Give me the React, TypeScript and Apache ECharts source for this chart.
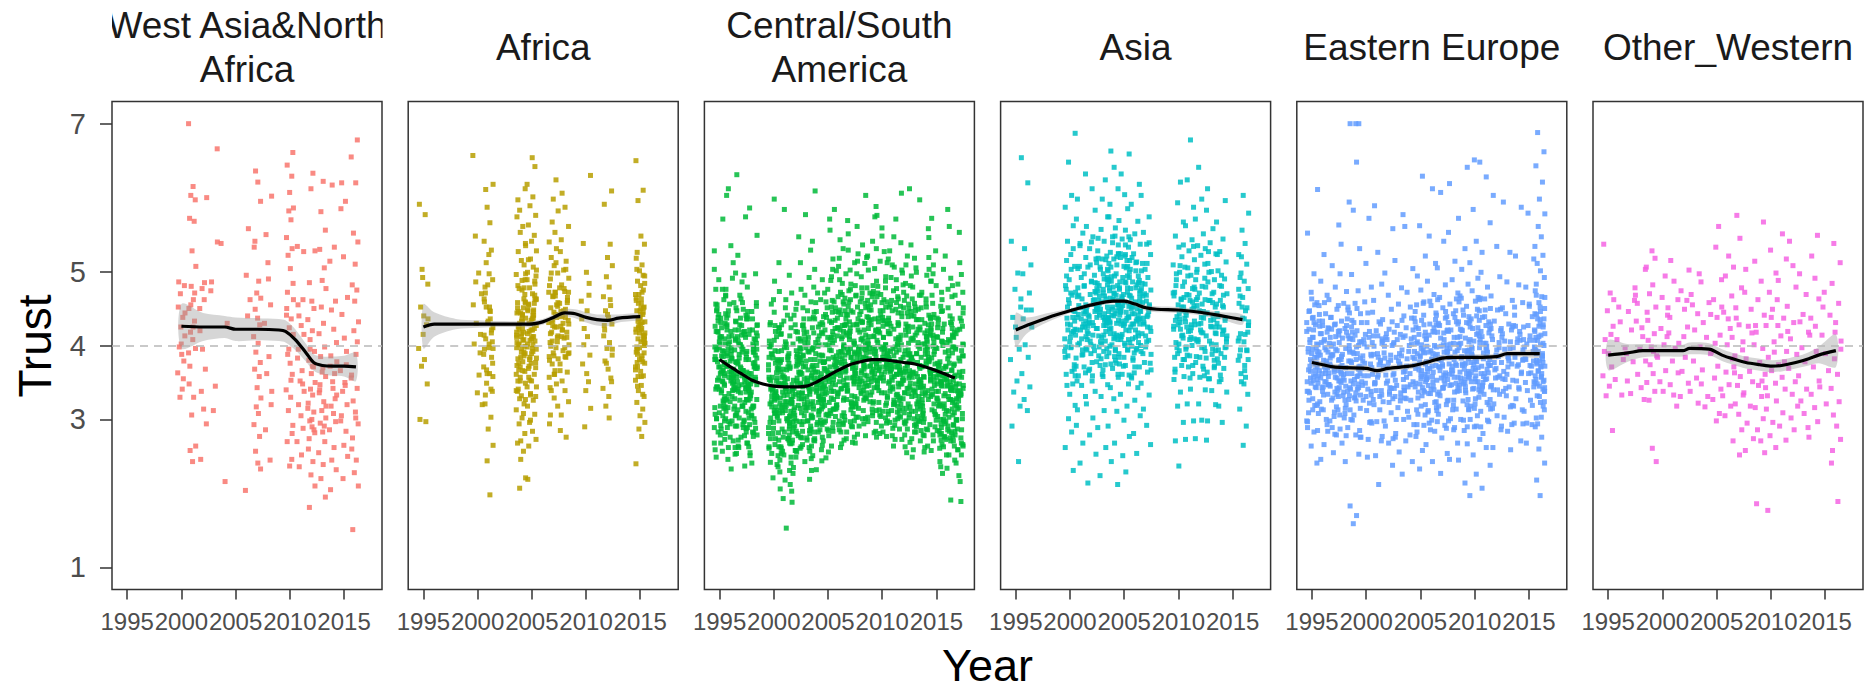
import React, { useEffect, useRef } from "react";
import * as echarts from "echarts";

// ---------- axis ticks / labels ----------
const X_TICKS = [1995, 2000, 2005, 2010, 2015];
const Y_TICKS = [1, 3, 4, 5, 7];
const TITLES = ["West Asia&North\nAfrica", "Africa", "Central/South\nAmerica", "Asia", "Eastern Europe", "Other_Western"];
const COLORS = ["#F8766D", "#B79F00", "#00BA38", "#00BFC4", "#619CFF", "#F564E3"];

// ---------- data: survey year columns, trust values x100 ----------
const wanaYears = [2000, 2001, 2002, 2003, 2004, 2006, 2007, 2008, 2010, 2011, 2012, 2013, 2014, 2015, 2016];
const wanaTrust = [
  [452, 438, 425, 413, 398, 388, 379, 363, 341, 330, 481, 486, 355, 402, 444, 470],
  [700, 615, 603, 597, 572, 568, 528, 507, 480, 462, 450, 433, 418, 408, 396, 372, 348, 330, 306, 264, 258, 243, 471, 390, 425, 455],
  [600, 477, 462, 450, 368, 338, 314, 294, 246, 420, 485, 395],
  [666, 486, 474, 345, 312, 540],
  [216, 430, 538],
  [558, 495, 462, 204, 440],
  [636, 621, 595, 541, 533, 487, 471, 464, 449, 437, 428, 412, 403, 391, 377, 368, 358, 343, 329, 317, 308, 293, 277, 257, 241, 233],
  [602, 550, 490, 455, 430, 385, 362, 320, 286, 245, 512, 338],
  [661, 644, 629, 607, 586, 582, 570, 546, 531, 522, 504, 484, 472, 450, 436, 424, 415, 388, 376, 361, 340, 330, 312, 292, 270, 246, 237, 462, 395, 353, 441, 281],
  [534, 462, 440, 427, 415, 395, 383, 366, 352, 338, 320, 305, 288, 270, 252, 236, 527, 455, 348],
  [633, 612, 528, 485, 460, 450, 435, 420, 408, 392, 380, 371, 362, 350, 341, 333, 322, 310, 298, 290, 282, 274, 260, 243, 225, 210, 181, 300, 286, 315, 372, 395],
  [622, 581, 556, 530, 505, 488, 477, 452, 430, 416, 398, 385, 370, 358, 347, 336, 324, 312, 302, 295, 283, 270, 255, 239, 220, 195, 340, 291, 364, 318],
  [617, 533, 514, 460, 448, 422, 404, 386, 372, 362, 351, 333, 318, 308, 297, 286, 262, 245, 232, 205, 328, 342, 378],
  [620, 585, 595, 520, 465, 442, 410, 392, 366, 350, 338, 320, 305, 284, 265, 250, 220, 346, 298, 374],
  [678, 655, 620, 552, 540, 482, 475, 460, 432, 420, 388, 360, 342, 325, 310, 294, 275, 260, 245, 228, 210, 151, 510, 405, 356, 302],
];

const afrYears = [1995, 2000, 2001, 2004, 2005, 2007, 2008, 2010, 2012, 2015];
const afrTrust = [
  [591, 577, 492, 483, 452, 440, 428, 396, 381, 372, 348, 300, 297, 415, 436, 503],
  [657, 498, 486, 470, 402, 390, 336, 320, 430, 360, 455, 415, 548],
  [618, 587, 566, 541, 529, 512, 497, 489, 471, 459, 446, 431, 424, 409, 397, 384, 371, 362, 349, 338, 321, 303, 287, 265, 244, 198, 463, 417, 452, 402, 376, 333, 395, 436, 482, 358, 611, 523, 421, 388, 452, 367, 405, 479, 341, 433, 396, 362, 447, 414],
  [612, 597, 574, 561, 553, 538, 527, 515, 509, 496, 488, 477, 469, 458, 451, 444, 437, 430, 423, 414, 408, 401, 396, 389, 382, 373, 366, 357, 349, 341, 332, 321, 313, 302, 294, 281, 268, 257, 246, 221, 207, 442, 418, 391, 367, 433, 459, 481, 404, 378, 352, 327, 446, 412, 386, 361, 475, 422, 399, 338, 308, 271, 535, 583],
  [654, 642, 618, 601, 589, 576, 563, 549, 541, 528, 517, 506, 499, 487, 478, 470, 462, 455, 447, 441, 434, 427, 419, 412, 406, 398, 392, 384, 377, 369, 361, 352, 344, 335, 326, 318, 307, 296, 284, 273, 264, 219, 448, 421, 395, 372, 436, 463, 489, 401, 353, 331, 516, 457, 409, 383, 299],
  [624, 598, 582, 567, 553, 540, 531, 519, 508, 498, 490, 481, 472, 466, 458, 451, 445, 438, 431, 425, 418, 411, 404, 397, 390, 382, 375, 366, 357, 348, 339, 329, 318, 306, 294, 442, 427, 413, 399, 386, 455, 472, 361, 433, 405, 343, 512, 467, 441, 406, 472, 385, 425, 498, 361, 453, 416, 380, 467, 434],
  [606, 587, 561, 543, 527, 514, 502, 491, 482, 473, 465, 457, 449, 441, 434, 426, 418, 410, 401, 393, 384, 375, 364, 352, 339, 324, 306, 285, 276, 447, 429, 412, 397, 461, 478, 438, 421, 389, 446, 411, 477, 390, 430, 503, 366, 458, 421, 385, 472, 439],
  [630, 538, 499, 484, 460, 447, 423, 387, 375, 351, 339, 315, 290, 412, 436, 468, 401, 362],
  [609, 591, 537, 519, 508, 493, 479, 466, 454, 447, 438, 429, 421, 413, 404, 396, 387, 379, 368, 356, 342, 331, 318, 351, 427, 462, 442, 395, 376, 302],
  [650, 610, 596, 548, 537, 526, 518, 509, 501, 494, 487, 481, 475, 469, 463, 457, 452, 447, 442, 437, 432, 427, 423, 418, 414, 409, 405, 400, 396, 391, 386, 381, 376, 371, 365, 359, 353, 346, 339, 331, 323, 314, 305, 296, 287, 277, 240, 445, 433, 421, 408, 394, 461, 472, 417, 403, 388, 429, 451, 367, 358, 436, 412, 398, 378],
];
const afrTrustMore = [
  [], [], [],
  [432, 397, 463, 376, 416, 489, 352, 444, 407, 371, 458, 425, 391, 478, 339, 436, 402, 365, 451, 418, 384, 497, 328, 441, 411],
  [437, 402, 468, 381, 421, 494, 357, 449, 412, 376, 463, 430, 396, 483, 344, 441, 407, 370, 456, 423, 389, 502, 333, 446, 416],
  [], [], [], [],
  [438, 403, 469, 382, 422, 495, 358, 450, 413, 377, 464, 431, 397, 484, 345, 442, 408, 371, 457, 424, 390, 503, 334, 447, 417],
];

const csaYears = [1995, 1996, 1997, 1998, 2000, 2001, 2002, 2003, 2004, 2005, 2006, 2007, 2008, 2009, 2010, 2011, 2012, 2013, 2014, 2015, 2016, 2017];
const csaTrust = [
  [385, 412, 356, 298, 447, 371, 325, 503, 268, 419, 392, 341, 476, 309, 362, 433, 287, 398, 351, 455, 318, 374, 249, 426, 339, 489, 377, 301, 410, 366, 528, 292, 344, 462, 381, 257, 405, 331, 438, 364, 316, 571, 395, 279, 348, 419, 307, 386, 442, 359],
  [402, 361, 447, 318, 389, 512, 276, 433, 357, 298, 468, 341, 395, 233, 421, 372, 326, 491, 364, 407, 289, 352, 458, 317, 383, 612, 340, 426, 271, 379, 498, 335, 413, 301, 367, 441, 388, 253, 328, 476, 349, 405, 291, 372, 535, 314, 430, 356, 262, 394, 603],
  [344, 468, 293, 377, 415, 262, 391, 337, 522, 308, 449, 371, 283, 406, 359, 237, 432, 318, 388, 574, 351, 297, 463, 327, 401, 366, 254, 419, 345, 486, 311, 378, 631, 289, 437, 354, 272, 398, 323, 451, 366, 302, 411, 341, 495, 276, 384, 428, 318, 362],
  [327, 381, 446, 301, 362, 279, 415, 352, 497, 268, 391, 334, 453, 309, 372, 241, 428, 356, 318, 479, 387, 293, 402, 347, 263, 436, 371, 314, 549, 339, 421, 288, 364, 395, 251, 458, 326, 377, 305, 413, 348, 282, 439, 369, 586, 316, 395, 342],
  [312, 369, 281, 427, 344, 236, 398, 331, 462, 298, 357, 419, 263, 381, 324, 487, 349, 274, 406, 338, 221, 371, 302, 445, 356, 289, 393, 317, 251, 428, 363, 296, 512, 341, 274, 384, 329, 456, 308, 367, 242, 399, 336, 281, 419, 352, 598, 305, 374, 266],
  [298, 357, 413, 276, 342, 229, 381, 319, 451, 287, 364, 206, 397, 332, 268, 428, 351, 301, 473, 338, 257, 389, 316, 441, 283, 369, 193, 402, 346, 274, 357, 312, 495, 261, 377, 324, 433, 291, 348, 218, 386, 309, 462, 337, 272, 415, 355, 584, 296, 368, 153],
  [331, 284, 392, 347, 241, 418, 306, 364, 272, 449, 328, 212, 385, 353, 297, 471, 319, 258, 406, 342, 281, 436, 364, 227, 393, 315, 268, 424, 349, 301, 512, 338, 249, 378, 322, 457, 289, 361, 203, 409, 334, 276, 441, 356, 311, 547, 297, 372, 261, 188],
  [356, 297, 418, 338, 263, 447, 321, 381, 284, 492, 349, 231, 403, 367, 309, 436, 328, 272, 459, 344, 293, 411, 372, 247, 428, 318, 281, 476, 353, 305, 529, 336, 262, 397, 341, 468, 298, 376, 219, 422, 347, 287, 451, 362, 316, 577, 304, 386, 275],
  [362, 318, 429, 347, 276, 458, 331, 394, 295, 503, 356, 244, 417, 373, 312, 446, 335, 283, 471, 351, 302, 425, 381, 259, 438, 327, 293, 489, 364, 311, 541, 342, 271, 408, 348, 479, 303, 387, 232, 431, 356, 296, 462, 371, 323, 609, 314, 397, 286, 373],
  [377, 329, 442, 361, 289, 471, 344, 408, 307, 517, 368, 256, 431, 386, 323, 459, 349, 296, 488, 364, 314, 438, 394, 271, 452, 341, 305, 503, 378, 325, 556, 357, 284, 421, 362, 493, 317, 401, 248, 445, 369, 308, 476, 384, 336, 571, 327, 411, 298],
  [392, 337, 456, 374, 298, 484, 358, 421, 316, 531, 381, 267, 445, 399, 331, 472, 362, 305, 501, 377, 326, 451, 407, 283, 466, 353, 314, 518, 391, 338, 543, 369, 293, 434, 375, 507, 329, 413, 262, 459, 382, 319, 489, 397, 347, 584, 341, 424, 309, 446],
  [384, 441, 352, 497, 317, 412, 366, 529, 291, 428, 378, 338, 462, 403, 274, 447, 356, 391, 512, 327, 419, 371, 304, 483, 395, 348, 436, 269, 408, 363, 551, 322, 387, 445, 341, 476, 298, 417, 374, 332, 459, 389, 283, 502, 357, 427, 313, 569, 401, 346],
  [398, 352, 467, 384, 303, 493, 371, 429, 321, 536, 389, 278, 452, 408, 344, 481, 366, 315, 511, 382, 339, 459, 414, 291, 471, 362, 326, 524, 396, 349, 561, 377, 301, 442, 383, 514, 337, 421, 268, 464, 391, 329, 497, 406, 356, 603, 348, 431, 317],
  [407, 359, 473, 391, 312, 502, 378, 436, 328, 541, 396, 284, 461, 413, 351, 487, 372, 322, 519, 389, 346, 466, 421, 297, 478, 368, 333, 531, 402, 356, 574, 383, 309, 448, 392, 521, 343, 428, 276, 471, 397, 336, 504, 412, 363, 588, 354, 439, 324, 455],
  [401, 466, 357, 514, 322, 432, 381, 548, 298, 441, 389, 343, 478, 417, 283, 459, 366, 404, 527, 336, 429, 379, 311, 493, 407, 352, 447, 277, 419, 371, 559, 331, 398, 462, 349, 487, 306, 426, 386, 339, 471, 395, 291, 512, 368, 438, 319, 576, 411, 356],
  [396, 349, 461, 378, 307, 489, 364, 422, 318, 528, 384, 273, 447, 401, 338, 474, 361, 311, 506, 373, 334, 452, 409, 288, 463, 357, 321, 517, 391, 343, 547, 371, 296, 437, 378, 509, 331, 416, 264, 458, 386, 323, 492, 402, 351, 571, 344, 427, 312],
  [388, 342, 453, 371, 298, 482, 356, 414, 309, 521, 377, 263, 439, 394, 329, 467, 353, 302, 498, 365, 326, 444, 401, 279, 456, 348, 312, 509, 384, 335, 539, 363, 287, 429, 369, 502, 321, 408, 255, 451, 378, 315, 484, 394, 342, 606, 336, 419, 303],
  [384, 337, 449, 366, 294, 479, 351, 409, 304, 518, 372, 259, 435, 389, 324, 463, 348, 297, 494, 361, 321, 440, 396, 274, 452, 343, 307, 505, 379, 331, 536, 358, 283, 425, 364, 499, 317, 404, 249, 447, 373, 311, 481, 389, 338, 597, 331, 414, 298, 612],
  [371, 428, 333, 487, 301, 398, 354, 519, 279, 412, 365, 322, 451, 389, 262, 436, 342, 379, 503, 314, 407, 358, 293, 472, 384, 336, 423, 256, 395, 349, 546, 308, 375, 438, 327, 468, 286, 402, 362, 318, 457, 381, 271, 495, 345, 414, 301, 558, 388, 331],
  [366, 321, 437, 352, 279, 468, 338, 397, 289, 509, 357, 243, 421, 376, 311, 453, 334, 284, 481, 349, 307, 429, 383, 261, 442, 328, 294, 497, 366, 318, 528, 346, 271, 412, 351, 487, 304, 392, 236, 438, 361, 299, 472, 375, 325, 572, 319, 404, 285],
  [361, 314, 429, 346, 271, 462, 331, 391, 282, 503, 351, 234, 414, 371, 303, 447, 327, 276, 476, 343, 298, 423, 376, 252, 436, 321, 286, 491, 359, 311, 521, 339, 263, 406, 345, 481, 297, 386, 227, 431, 354, 291, 466, 369, 318, 561, 312, 398, 277, 584, 191],
  [348, 301, 418, 333, 259, 451, 319, 379, 271, 496, 339, 224, 402, 358, 292, 437, 314, 264, 468, 331, 286, 412, 364, 241, 426, 309, 275, 483, 346, 299, 512, 326, 252, 395, 333, 472, 284, 373, 216, 421, 342, 279, 457, 357, 306, 553, 299, 386, 264, 189],
];
const csaTrustMore = [
  [344, 402, 367, 289, 431, 378, 315, 456, 352, 397, 273, 418, 336, 381, 305, 449, 362, 327, 394, 259, 424, 371, 346, 301, 412, 385, 268, 437, 353, 322, 476, 393, 341, 409, 283],
  [368, 324, 409, 297, 382, 443, 351, 316, 397, 262, 428, 374, 339, 456, 305, 386, 419, 347, 281, 365, 402, 328, 437, 356, 294, 378, 412, 331, 467, 359, 246, 393, 343, 421, 311],
  [357, 402, 318, 441, 375, 291, 418, 336, 389, 264, 427, 351, 306, 458, 383, 342, 412, 299, 369, 436, 326, 395, 357, 278, 421, 347, 381, 313, 447, 366, 401, 288, 338, 414, 359],
  [348, 391, 306, 427, 362, 283, 408, 327, 376, 255, 417, 341, 296, 446, 371, 332, 399, 289, 357, 421, 318, 383, 344, 268, 409, 337, 369, 302, 436, 354, 392, 277, 328, 403, 347],
  [331, 379, 296, 412, 345, 263, 388, 309, 357, 239, 401, 326, 282, 431, 354, 317, 383, 272, 341, 407, 303, 367, 328, 254, 392, 321, 352, 288, 424, 338, 376, 261, 312, 389, 333],
  [322, 371, 287, 405, 338, 254, 379, 301, 349, 231, 393, 317, 274, 424, 346, 309, 376, 263, 333, 398, 294, 359, 319, 245, 384, 312, 343, 279, 416, 329, 367, 252, 304, 381, 324],
  [327, 374, 291, 409, 341, 258, 383, 305, 352, 235, 397, 321, 278, 428, 349, 313, 379, 267, 336, 402, 298, 363, 323, 249, 388, 316, 347, 283, 419, 333, 371, 256, 308, 384, 327],
  [334, 381, 298, 416, 348, 266, 391, 312, 359, 243, 404, 328, 285, 436, 356, 321, 387, 275, 344, 409, 306, 371, 331, 257, 396, 324, 355, 291, 427, 341, 379, 264, 316, 392, 335],
  [342, 389, 306, 424, 357, 274, 399, 321, 368, 251, 413, 337, 293, 445, 364, 329, 396, 283, 352, 418, 314, 379, 339, 265, 404, 332, 363, 299, 436, 349, 387, 272, 324, 401, 343],
  [356, 403, 319, 439, 371, 287, 414, 334, 382, 264, 428, 351, 306, 461, 378, 343, 411, 296, 366, 433, 327, 393, 353, 278, 419, 346, 377, 312, 451, 363, 401, 285, 338, 416, 357],
  [364, 412, 327, 448, 379, 295, 423, 342, 391, 272, 437, 359, 314, 469, 386, 351, 419, 304, 374, 442, 335, 401, 361, 286, 427, 354, 385, 320, 459, 371, 409, 293, 346, 424, 365],
  [369, 417, 331, 453, 384, 299, 428, 347, 396, 276, 442, 364, 318, 474, 391, 356, 424, 308, 379, 447, 339, 406, 366, 290, 432, 359, 390, 324, 464, 376, 414, 297, 351, 429, 370],
  [373, 421, 335, 457, 388, 303, 432, 351, 400, 280, 446, 368, 322, 478, 395, 360, 428, 312, 383, 451, 343, 410, 370, 294, 436, 363, 394, 328, 468, 380, 418, 301, 355, 433, 374],
  [375, 423, 337, 459, 390, 305, 434, 353, 402, 282, 448, 370, 324, 481, 397, 362, 430, 314, 385, 453, 345, 412, 372, 296, 438, 365, 396, 330, 470, 382, 420, 303, 357, 435, 376],
  [374, 422, 336, 458, 389, 304, 433, 352, 401, 281, 447, 369, 323, 480, 396, 361, 429, 313, 384, 452, 344, 411, 371, 295, 437, 364, 395, 329, 469, 381, 419, 302, 356, 434, 375],
  [371, 419, 333, 455, 386, 301, 430, 349, 398, 278, 444, 366, 320, 477, 393, 358, 426, 310, 381, 449, 341, 408, 368, 292, 434, 361, 392, 326, 466, 378, 416, 299, 353, 431, 372],
  [366, 414, 328, 450, 381, 296, 425, 344, 393, 273, 439, 361, 315, 472, 388, 353, 421, 305, 376, 444, 336, 403, 363, 287, 429, 356, 387, 321, 461, 373, 411, 294, 348, 426, 367],
  [362, 410, 324, 446, 377, 292, 421, 340, 389, 269, 435, 357, 311, 468, 384, 349, 417, 301, 372, 440, 332, 399, 359, 283, 425, 352, 383, 317, 457, 369, 407, 290, 344, 422, 363],
  [357, 405, 319, 441, 372, 287, 416, 335, 384, 264, 430, 352, 306, 463, 379, 344, 412, 296, 367, 435, 327, 394, 354, 278, 420, 347, 378, 312, 452, 364, 402, 285, 339, 417, 358],
  [351, 399, 313, 435, 366, 281, 410, 329, 378, 258, 424, 346, 300, 457, 373, 338, 406, 290, 361, 429, 321, 388, 348, 272, 414, 341, 372, 306, 446, 358, 396, 279, 333, 411, 352],
  [345, 393, 307, 429, 360, 275, 404, 323, 372, 252, 418, 340, 294, 451, 367, 332, 400, 284, 355, 423, 315, 382, 342, 266, 408, 335, 366, 300, 440, 352, 390, 273, 327, 405, 346],
  [338, 386, 300, 422, 353, 268, 397, 316, 365, 245, 411, 333, 287, 444, 360, 325, 393, 277, 348, 416, 308, 375, 335, 259, 401, 328, 359, 293, 433, 345, 383, 266, 320, 398, 339],
];

const asiaYears = [1995, 1996, 2000, 2001, 2002, 2003, 2004, 2005, 2006, 2007, 2010, 2011, 2012, 2013, 2014, 2016];
const asiaTrust = [
  [541, 498, 476, 452, 438, 411, 395, 381, 352, 337, 318, 291, 243, 425, 463],
  [654, 620, 531, 509, 497, 471, 448, 425, 401, 384, 362, 344, 327, 312, 448, 436],
  [687, 648, 603, 587, 562, 541, 523, 507, 494, 481, 468, 457, 446, 437, 428, 419, 409, 398, 386, 374, 361, 348, 334, 319, 301, 283, 262, 231, 452, 471, 433, 515, 398, 365, 489, 422, 346, 411],
  [632, 598, 571, 552, 538, 519, 504, 492, 481, 472, 463, 454, 446, 438, 429, 421, 412, 403, 394, 383, 371, 359, 346, 331, 313, 292, 268, 241, 455, 478, 436, 497, 414, 387, 468, 425, 352, 443],
  [612, 583, 561, 547, 531, 517, 506, 495, 486, 477, 469, 461, 453, 446, 439, 431, 423, 416, 408, 399, 389, 378, 366, 352, 338, 321, 302, 279, 253, 214, 462, 487, 448, 509, 427, 394, 473, 432, 359, 451, 441, 419],
  [624, 598, 574, 557, 541, 528, 516, 506, 497, 489, 481, 474, 467, 459, 452, 445, 438, 431, 423, 414, 405, 396, 386, 374, 361, 347, 331, 312, 289, 262, 224, 471, 492, 456, 518, 434, 402, 482, 441, 367, 463, 449, 427, 503, 385],
  [663, 641, 612, 591, 574, 559, 547, 536, 526, 517, 509, 501, 494, 487, 481, 474, 468, 462, 456, 449, 443, 437, 430, 423, 416, 408, 399, 390, 380, 369, 357, 343, 328, 311, 291, 268, 243, 212, 478, 497, 463, 524, 441, 411, 489, 447, 375, 471, 455, 432, 511, 393, 539, 461],
  [659, 632, 604, 585, 569, 556, 544, 533, 524, 515, 507, 499, 492, 485, 478, 472, 466, 459, 453, 447, 441, 434, 427, 420, 412, 403, 394, 384, 373, 361, 348, 334, 318, 299, 277, 251, 229, 476, 494, 461, 521, 438, 408, 486, 445, 372, 468, 452, 429, 507, 389, 536],
  [618, 591, 568, 551, 537, 524, 513, 503, 494, 486, 478, 471, 464, 457, 450, 443, 436, 429, 421, 413, 404, 394, 383, 371, 358, 343, 326, 305, 281, 254, 467, 485, 452, 512, 429, 399, 477, 436, 363, 459, 443],
  [603, 574, 553, 537, 523, 511, 501, 492, 483, 475, 467, 460, 453, 446, 439, 431, 424, 416, 407, 398, 388, 377, 364, 349, 333, 314, 292, 266, 458, 477, 441, 503, 419, 389, 468],
  [621, 593, 567, 548, 533, 520, 509, 499, 489, 480, 472, 463, 455, 447, 439, 431, 422, 413, 404, 393, 381, 368, 354, 337, 318, 296, 271, 237, 452, 471, 436, 497, 414, 384, 462, 428],
  [678, 624, 587, 562, 543, 528, 516, 505, 495, 486, 477, 469, 461, 453, 445, 437, 428, 419, 409, 398, 386, 373, 358, 341, 321, 298, 273, 449, 468, 433, 494, 411, 381, 459, 425, 356],
  [641, 598, 571, 551, 535, 522, 510, 499, 489, 480, 471, 462, 454, 446, 437, 428, 418, 408, 397, 385, 372, 357, 340, 321, 299, 274, 446, 465, 430, 491, 407, 377, 456],
  [612, 583, 558, 539, 524, 511, 500, 489, 479, 470, 461, 452, 444, 435, 426, 416, 406, 395, 383, 370, 355, 339, 320, 298, 272, 441, 461, 425, 486, 402, 372],
  [596, 567, 544, 527, 513, 501, 490, 480, 470, 461, 452, 443, 434, 425, 415, 405, 394, 382, 369, 354, 337, 318, 296, 437, 456, 420, 481, 398],
  [603, 579, 556, 538, 523, 510, 498, 487, 477, 467, 457, 447, 437, 427, 416, 405, 393, 380, 366, 351, 334, 314, 291, 265, 432, 452, 415, 476, 394, 362],
];
const asiaTrustMore = [
  [], [],
  [447, 392, 503, 421, 368, 476, 438, 405, 359, 462, 417, 384, 531, 429, 397],
  [451, 396, 507, 425, 372, 480, 442, 409, 363, 466, 421, 388, 535, 433, 401],
  [456, 401, 512, 430, 377, 485, 447, 414, 368, 471, 426, 393, 540, 438, 406],
  [461, 406, 517, 435, 382, 490, 452, 419, 373, 476, 431, 398, 545, 443, 411, 503, 467, 358, 427, 484, 392, 449, 521, 413, 437],
  [464, 409, 520, 438, 385, 493, 455, 422, 376, 479, 434, 401, 548, 446, 414, 506, 470, 361, 430, 487, 395, 452, 524, 416, 440],
  [463, 408, 519, 437, 384, 492, 454, 421, 375, 478, 433, 400, 547, 445, 413, 505, 469, 360, 429, 486, 394, 451, 523, 415, 439],
  [459, 404, 515, 433, 380, 488, 450, 417, 371, 474, 429, 396, 543, 441, 409, 501, 465, 356, 425, 482, 390, 447, 519, 411, 435],
  [455, 400, 511, 429, 376, 484, 446, 413, 367, 470, 425, 392, 539, 437, 405],
  [452, 397, 508, 426, 373, 481, 443, 410, 364, 467, 422, 389, 536, 434, 402],
  [450, 395, 506, 424, 371, 479, 441, 408, 362, 465, 420, 387, 534, 432, 400],
  [447, 392, 503, 421, 368, 476, 438, 405, 359, 462, 417, 384, 531, 429, 397],
  [443, 388, 499, 417, 364, 472, 434, 401, 355, 458, 413, 380, 527, 425, 393],
  [439, 384, 495, 413, 360, 468, 430, 397, 351, 454, 409, 376, 523, 421, 389],
  [436, 381, 492, 410, 357, 465, 427, 394, 348, 451, 406, 373, 520, 418, 386],
];

const eeuYears = [1995, 1996, 1997, 1998, 1999, 2000, 2001, 2002, 2003, 2004, 2005, 2006, 2007, 2008, 2009, 2010, 2011, 2012, 2013, 2014, 2015, 2016];
const eeuTrust = [
  [552, 497, 472, 458, 446, 437, 428, 419, 411, 404, 397, 391, 384, 378, 371, 365, 358, 351, 344, 336, 328, 319, 309, 297, 283, 264, 241, 422, 395, 367, 431, 352, 408, 376, 338, 455, 389],
  [611, 523, 487, 468, 454, 443, 433, 424, 416, 408, 401, 394, 387, 380, 373, 366, 359, 351, 343, 334, 324, 313, 300, 285, 266, 246, 418, 391, 362, 427, 347, 404, 371],
  [563, 508, 479, 462, 449, 438, 428, 419, 411, 403, 395, 388, 380, 372, 364, 356, 347, 337, 326, 313, 298, 279, 255, 414, 386, 357, 423, 342, 399, 367, 331],
  [594, 537, 497, 473, 457, 444, 433, 423, 413, 404, 396, 388, 379, 371, 362, 353, 343, 332, 320, 306, 289, 268, 243, 409, 381, 352, 418, 337, 394, 362, 326, 448],
  [700, 700, 700, 648, 583, 531, 496, 474, 457, 443, 431, 420, 410, 400, 391, 381, 372, 362, 352, 341, 329, 315, 299, 279, 253, 183, 170, 159, 405, 377, 348, 414, 333, 389, 358],
  [572, 511, 479, 459, 444, 431, 419, 408, 398, 388, 379, 369, 359, 349, 338, 326, 312, 296, 276, 249, 402, 375, 346, 411, 331, 386],
  [589, 526, 483, 461, 445, 432, 420, 409, 399, 389, 380, 370, 360, 350, 339, 327, 313, 297, 277, 251, 212, 404, 377, 348, 413, 333, 388, 361],
  [558, 498, 468, 449, 435, 422, 411, 400, 390, 380, 370, 360, 349, 337, 324, 309, 291, 268, 238, 399, 372, 343, 408, 328, 383],
  [577, 515, 478, 456, 440, 427, 415, 404, 394, 384, 374, 364, 353, 342, 330, 316, 300, 281, 256, 226, 402, 375, 346, 411, 331, 386],
  [561, 504, 472, 452, 437, 424, 413, 402, 392, 382, 372, 362, 351, 339, 326, 311, 293, 271, 243, 400, 373, 344, 409, 329, 384],
  [629, 562, 521, 494, 475, 459, 446, 434, 423, 413, 403, 394, 385, 376, 367, 358, 349, 339, 329, 318, 306, 293, 277, 258, 233, 418, 389, 361, 428, 344, 401, 372, 337, 455, 391],
  [612, 548, 511, 487, 469, 454, 441, 429, 419, 409, 400, 391, 382, 373, 364, 355, 345, 335, 324, 312, 299, 284, 266, 243, 414, 386, 357, 424, 341, 398, 369],
  [607, 541, 505, 482, 465, 451, 439, 428, 418, 408, 399, 390, 381, 372, 363, 353, 343, 332, 320, 307, 292, 275, 254, 227, 417, 388, 359, 427, 343, 401, 371, 334],
  [619, 553, 514, 489, 471, 456, 443, 432, 421, 411, 402, 393, 384, 375, 366, 357, 347, 337, 326, 314, 301, 286, 268, 246, 419, 391, 362, 429, 346, 403, 373],
  [641, 572, 531, 503, 483, 467, 453, 441, 430, 420, 410, 401, 392, 383, 374, 365, 356, 346, 336, 325, 313, 300, 285, 267, 245, 214, 421, 393, 364, 431, 348, 405, 375, 339, 459, 386, 351],
  [651, 648, 584, 541, 512, 491, 474, 460, 447, 436, 425, 415, 406, 397, 388, 379, 370, 361, 351, 341, 330, 318, 305, 290, 273, 252, 226, 197, 424, 396, 367, 434, 351, 408, 378, 342, 462, 389, 355, 417],
  [628, 566, 526, 499, 479, 463, 450, 438, 427, 417, 408, 399, 390, 381, 372, 363, 354, 344, 334, 323, 311, 297, 281, 262, 238, 207, 419, 391, 362, 429, 346, 403, 373, 337],
  [603, 534, 493, 467, 448, 433, 420, 408, 397, 387, 377, 367, 357, 346, 334, 321, 305, 286, 262, 413, 385, 356, 423, 340],
  [594, 526, 486, 461, 443, 429, 416, 405, 395, 385, 375, 365, 355, 344, 332, 319, 303, 284, 259, 411, 383, 354, 421, 338],
  [587, 521, 482, 458, 441, 427, 415, 404, 394, 384, 374, 364, 353, 341, 328, 313, 295, 271, 409, 381, 352, 419],
  [579, 517, 479, 456, 439, 425, 413, 402, 392, 382, 372, 362, 351, 339, 326, 311, 293, 268, 407, 379, 350],
  [688, 662, 643, 621, 598, 578, 561, 547, 534, 522, 511, 501, 492, 483, 474, 466, 458, 450, 442, 435, 428, 421, 414, 407, 400, 393, 386, 379, 372, 365, 357, 349, 341, 332, 323, 313, 302, 290, 276, 260, 241, 218, 197, 425, 398, 371, 436, 353, 411, 382, 345, 465, 392, 358, 419, 403, 377, 446, 338, 389],
];
const eeuTrustMore = [
  [392, 356, 421, 338, 375, 447, 313, 402, 367, 289, 431, 349, 384, 326, 411, 361, 298, 438, 372, 343, 396, 319, 463, 354, 381],
  [387, 351, 416, 333, 370, 442, 308, 397, 362, 284, 426, 344, 379, 321, 406, 356, 293, 433, 367, 338, 391, 314, 458, 349, 376],
  [383, 347, 412, 329, 366, 438, 304, 393, 358, 280, 422, 340, 375, 317, 402, 352, 289, 429, 363, 334, 387, 310, 454, 345, 372],
  [381, 345, 410, 327, 364, 436, 302, 391, 356, 278, 420, 338, 373, 315, 400, 350, 287, 427, 361, 332, 385, 308, 452, 343, 370],
  [379, 343, 408, 325, 362, 434, 300, 389, 354, 276, 418, 336, 371, 313, 398, 348, 285, 425, 359, 330, 383, 306, 450, 341, 368],
  [376, 341, 405, 322, 359, 431, 297, 386, 351, 273, 415, 333],
  [374, 339, 403, 320, 357, 429, 295, 384, 349, 271, 413, 331],
  [377, 342, 406, 323, 360, 432, 298, 387, 352, 274, 416, 334],
  [379, 344, 408, 325, 362, 434, 300, 389, 354, 276, 418, 336],
  [382, 347, 411, 328, 365, 437, 303, 392, 357, 279, 421, 339],
  [386, 351, 415, 332, 369, 441, 307, 396, 361, 283, 425, 343, 378, 320, 405, 355, 292, 432, 366, 337, 390, 313, 457, 348, 375],
  [389, 354, 418, 335, 372, 444, 310, 399, 364, 286, 428, 346, 381, 323, 408, 358, 295, 435, 369, 340, 393, 316, 460, 351, 378],
  [391, 356, 420, 337, 374, 446, 312, 401, 366, 288, 430, 348, 383, 325, 410, 360, 297, 437, 371, 342, 395, 318, 462, 353, 380],
  [392, 357, 421, 338, 375, 447, 313, 402, 367, 289, 431, 349, 384, 326, 411, 361, 298, 438, 372, 343, 396, 319, 463, 354, 381],
  [393, 358, 422, 339, 376, 448, 314, 403, 368, 290, 432, 350, 385, 327, 412, 362, 299, 439, 373, 344, 397, 320, 464, 355, 382],
  [394, 359, 423, 340, 377, 449, 315, 404, 369, 291, 433, 351, 386, 328, 413, 363, 300, 440, 374, 345, 398, 321, 465, 356, 383],
  [393, 358, 422, 339, 376, 448, 314, 403, 368, 290, 432, 350, 385, 327, 412, 362, 299, 439, 373, 344, 397, 320, 464, 355, 382],
  [394, 359, 423, 340, 377, 449, 315, 404, 369, 291],
  [396, 361, 425, 342, 379, 451, 317, 406, 371, 293],
  [397, 362, 426, 343, 380, 452, 318, 407, 372, 294],
  [398, 363, 427, 344, 381, 453, 319, 408, 373, 295],
  [397, 362, 426, 343, 380, 452, 318, 407, 372, 294, 436, 354, 389, 331, 416, 366, 303, 443, 377, 348, 401, 324, 468, 359, 386, 412, 338, 375, 429, 351],
];

const oweYears = [1995, 1996, 1997, 1998, 1999, 2000, 2001, 2002, 2003, 2004, 2005, 2006, 2007, 2008, 2009, 2010, 2011, 2012, 2013, 2014, 2015, 2016];
const oweTrust = [
  [537, 471, 447, 426, 408, 389, 371, 359, 345, 332, 285, 392, 415],
  [462, 432, 408, 381, 354, 333, 452],
  [478, 446, 421, 397, 378, 352, 335, 461, 389],
  [503, 457, 433, 412, 395, 379, 361, 343, 327, 468, 424],
  [528, 518, 506, 482, 470, 452, 434, 416, 398, 386, 374, 362, 350, 338, 326, 261, 243, 407, 445, 392],
  [494, 465, 441, 423, 401, 384, 366, 351, 338, 412],
  [515, 487, 462, 438, 417, 396, 379, 363, 347, 333, 318, 451],
  [502, 474, 449, 425, 403, 384, 365, 349, 331, 461, 412],
  [497, 469, 443, 421, 398, 379, 356, 338, 322, 455],
  [486, 458, 431, 411, 389, 367, 348, 331, 317, 442],
  [561, 533, 489, 462, 438, 414, 391, 372, 356, 341, 327, 308, 298, 452, 403],
  [521, 494, 467, 445, 423, 401, 382, 364, 347, 332, 318, 305, 436, 411],
  [576, 545, 506, 478, 451, 428, 405, 386, 371, 358, 346, 333, 321, 307, 286, 271, 252, 437, 394, 363],
  [503, 472, 449, 426, 401, 382, 365, 351, 336, 318, 295, 274, 258, 417],
  [567, 514, 487, 462, 441, 418, 396, 377, 361, 346, 331, 316, 301, 286, 271, 255, 186, 427, 352],
  [529, 498, 472, 449, 427, 405, 384, 366, 349, 332, 314, 296, 278, 262, 177, 438, 391, 343],
  [551, 517, 488, 462, 437, 413, 392, 374, 357, 341, 325, 309, 291, 272, 427, 378],
  [541, 508, 479, 453, 431, 409, 388, 369, 351, 334, 318, 302, 286, 419],
  [497, 469, 442, 418, 397, 378, 359, 341, 325, 308, 289, 432],
  [549, 521, 491, 463, 437, 414, 392, 371, 352, 334, 316, 297, 276, 426],
  [472, 441, 414, 389, 366, 344, 321, 452],
  [538, 512, 484, 457, 431, 406, 382, 361, 342, 324, 306, 291, 273, 258, 241, 189, 418, 395],
];

// ---------- loess fits (trust) with confidence band ----------
const wanaFitX = [2000, 2002, 2004, 2005, 2007, 2009, 2009.6, 2010.5, 2011.5, 2012.2, 2013, 2014, 2015, 2016.1];
const wanaFitY = [4.26, 4.25, 4.25, 4.22, 4.22, 4.21, 4.19, 4.08, 3.9, 3.77, 3.73, 3.72, 3.72, 3.71];
const wanaFitHi = [4.56, 4.44, 4.4, 4.38, 4.37, 4.36, 4.34, 4.22, 4.02, 3.88, 3.85, 3.85, 3.86, 3.9];
const wanaFitLo = [3.96, 4.06, 4.1, 4.06, 4.07, 4.06, 4.04, 3.94, 3.78, 3.66, 3.61, 3.59, 3.58, 3.52];

const afrFitX = [1995, 1996, 1998, 2000, 2002, 2004.8, 2006, 2007, 2008, 2009, 2010, 2011, 2012, 2013, 2015];
const afrFitY = [4.25, 4.29, 4.29, 4.29, 4.29, 4.29, 4.32, 4.38, 4.44, 4.43, 4.38, 4.35, 4.34, 4.37, 4.39];
const afrFitHi = [4.56, 4.45, 4.36, 4.34, 4.33, 4.33, 4.36, 4.42, 4.49, 4.49, 4.45, 4.42, 4.42, 4.42, 4.43];
const afrFitLo = [3.96, 4.12, 4.22, 4.24, 4.25, 4.25, 4.28, 4.34, 4.39, 4.37, 4.31, 4.27, 4.26, 4.31, 4.35];

const csaFitX = [1995, 1996, 1997, 1998, 1999, 2000, 2001, 2002, 2003, 2004, 2005, 2006, 2007, 2008, 2009, 2010, 2011, 2012, 2013, 2014, 2015, 2016, 2016.7];
const csaFitY = [3.81, 3.71, 3.62, 3.53, 3.48, 3.45, 3.44, 3.44, 3.45, 3.51, 3.59, 3.67, 3.74, 3.78, 3.81, 3.81, 3.79, 3.77, 3.75, 3.71, 3.66, 3.6, 3.56];
const csaFitHi = [3.85, 3.74, 3.65, 3.56, 3.51, 3.48, 3.47, 3.47, 3.48, 3.54, 3.62, 3.7, 3.77, 3.81, 3.84, 3.84, 3.82, 3.8, 3.78, 3.74, 3.69, 3.63, 3.6];
const csaFitLo = [3.77, 3.68, 3.59, 3.5, 3.45, 3.42, 3.41, 3.41, 3.42, 3.48, 3.56, 3.64, 3.71, 3.75, 3.78, 3.78, 3.76, 3.74, 3.72, 3.68, 3.63, 3.57, 3.52];

const asiaFitX = [1995, 1996, 1998, 2000, 2002, 2004, 2005, 2006, 2007, 2008, 2010, 2012, 2014, 2015.9];
const asiaFitY = [4.21, 4.27, 4.38, 4.47, 4.55, 4.6, 4.6, 4.56, 4.51, 4.49, 4.48, 4.45, 4.4, 4.35];
const asiaFitHi = [4.44, 4.38, 4.44, 4.5, 4.58, 4.63, 4.63, 4.59, 4.55, 4.53, 4.52, 4.49, 4.45, 4.42];
const asiaFitLo = [3.98, 4.16, 4.32, 4.44, 4.52, 4.57, 4.57, 4.53, 4.47, 4.45, 4.44, 4.41, 4.35, 4.28];

const eeuFitX = [1995, 1996, 1997, 1998, 2000, 2001, 2002, 2004, 2005, 2006, 2007, 2008, 2010, 2012, 2013, 2014, 2016];
const eeuFitY = [3.77, 3.74, 3.71, 3.7, 3.69, 3.66, 3.69, 3.72, 3.75, 3.79, 3.83, 3.84, 3.84, 3.85, 3.89, 3.89, 3.89];
const eeuFitHi = [3.82, 3.78, 3.75, 3.74, 3.73, 3.7, 3.73, 3.76, 3.79, 3.83, 3.87, 3.88, 3.88, 3.89, 3.93, 3.93, 3.94];
const eeuFitLo = [3.72, 3.7, 3.67, 3.66, 3.65, 3.62, 3.65, 3.68, 3.71, 3.75, 3.79, 3.8, 3.8, 3.81, 3.85, 3.85, 3.84];

const oweFitX = [1995, 1996.8, 1998.2, 2000, 2001.9, 2002.5, 2004.3, 2005.5, 2006.5, 2007.7, 2009, 2010.1, 2011, 2012.3, 2013.5, 2014.4, 2016];
const oweFitY = [3.87, 3.9, 3.93, 3.93, 3.93, 3.96, 3.95, 3.87, 3.82, 3.77, 3.74, 3.72, 3.73, 3.77, 3.82, 3.87, 3.93];
const oweFitHi = [4.07, 4.02, 4.02, 4.01, 4.01, 4.04, 4.03, 3.95, 3.9, 3.85, 3.82, 3.8, 3.81, 3.85, 3.91, 3.98, 4.15];
const oweFitLo = [3.67, 3.78, 3.84, 3.85, 3.85, 3.88, 3.87, 3.79, 3.74, 3.69, 3.66, 3.64, 3.65, 3.69, 3.73, 3.76, 3.71];

const REF_LINE = 4;

// ---------- styling / layout ----------
const FONT = "'Liberation Sans', Arial, Helvetica, sans-serif";
const JITTER = [-0.82, 0.37, -0.15, 0.91, -0.56, 0.08, 0.64, -0.97, 0.22, -0.38, 0.79, -0.7, 0.51, -0.05, 0.95, -0.27, 0.3, -0.88, 0.6, -0.46, 0.14, 0.86, -0.63];
const PANEL_LEFT = 112;
const PANEL_STEP = 296.2;
const PANEL_W = 270;
const PANEL_TOP = 101.5;
const PANEL_H = 488;

const merge = (a: number[][], b: number[][] | null) => (b ? a.map((col, c) => col.concat(b[c] || [])) : a);

const PANELS = [
  { years: wanaYears, trust: wanaTrust, fx: wanaFitX, fy: wanaFitY, lo: wanaFitLo, hi: wanaFitHi, spread: 0.35, band: true },
  { years: afrYears, trust: merge(afrTrust, afrTrustMore), fx: afrFitX, fy: afrFitY, lo: afrFitLo, hi: afrFitHi, spread: 0.45, band: true },
  { years: csaYears, trust: merge(csaTrust, csaTrustMore), fx: csaFitX, fy: csaFitY, lo: csaFitLo, hi: csaFitHi, spread: 0.5, band: false },
  { years: asiaYears, trust: merge(asiaTrust, asiaTrustMore), fx: asiaFitX, fy: asiaFitY, lo: asiaFitLo, hi: asiaFitHi, spread: 0.5, band: true },
  { years: eeuYears, trust: merge(eeuTrust, eeuTrustMore), fx: eeuFitX, fy: eeuFitY, lo: eeuFitLo, hi: eeuFitHi, spread: 0.5, band: true },
  { years: oweYears, trust: oweTrust, fx: oweFitX, fy: oweFitY, lo: oweFitLo, hi: oweFitHi, spread: 0.5, band: true },
];

function buildOption() {
  const grid: any[] = [];
  const xAxis: any[] = [];
  const yAxis: any[] = [];
  const series: any[] = [];
  const graphic: any[] = [];

  PANELS.forEach((p, i) => {
    const left = PANEL_LEFT + i * PANEL_STEP;
    grid.push({
      left, top: PANEL_TOP, width: PANEL_W, height: PANEL_H,
      show: true, borderColor: "#333333", borderWidth: 1.5, backgroundColor: "transparent",
    });
    xAxis.push({
      gridIndex: i, type: "value", min: 1993.6, max: 2018.5,
      splitLine: { show: false },
      axisLine: { show: false },
      axisTick: { show: true, customValues: X_TICKS, length: 10, lineStyle: { color: "#333333", width: 1.5 } },
      axisLabel: {
        customValues: X_TICKS, fontSize: 24, color: "#4d4d4d", fontFamily: FONT, margin: 20,
        hideOverlap: false, showMinLabel: true, showMaxLabel: true,
        formatter: (v: number) => String(v),
      },
    });
    yAxis.push({
      gridIndex: i, type: "value", min: 0.7, max: 7.3,
      splitLine: { show: false },
      axisLine: { show: false },
      axisTick: { show: i === 0, customValues: Y_TICKS, length: 12, lineStyle: { color: "#333333", width: 1.5 } },
      axisLabel: {
        show: i === 0, customValues: Y_TICKS, fontSize: 29, color: "#4d4d4d", fontFamily: FONT, margin: 26,
        hideOverlap: false, showMinLabel: true, showMaxLabel: true,
        formatter: (v: number) => String(v),
      },
    });

    const pts: number[][] = [];
    p.years.forEach((yr, c) => {
      p.trust[c].forEach((v, k) => {
        const j = JITTER[(k + c * 7) % JITTER.length];
        pts.push([yr + j * p.spread, v / 100]);
      });
    });
    series.push({
      type: "scatter", xAxisIndex: i, yAxisIndex: i, data: pts,
      symbol: "rect", symbolSize: 5, silent: true,
      itemStyle: { color: COLORS[i], opacity: 0.85 },
      z: 2,
    });

    if (p.band) {
      const fx = p.fx, lo = p.lo, hi = p.hi;
      series.push({
        type: "custom", xAxisIndex: i, yAxisIndex: i, silent: true, clip: true, z: 3,
        data: fx.map((x, j) => [x, lo[j], hi[j]]),
        encode: { x: 0, y: [1, 2] },
        renderItem: (params: any, api: any) => {
          if (params.dataIndex !== 0) return null;
          const up = fx.map((x, j) => api.coord([x, hi[j]]));
          const dn = fx.map((x, j) => api.coord([x, lo[j]])).reverse();
          return {
            type: "polygon",
            shape: { points: up.concat(dn), smooth: 0.3 },
            style: { fill: "rgba(153,153,153,0.4)", stroke: "none" },
          };
        },
      });
    }

    series.push({
      type: "line", xAxisIndex: i, yAxisIndex: i, silent: true,
      data: p.fx.map((x, j) => [x, p.fy[j]]),
      showSymbol: false, smooth: 0.3,
      lineStyle: { color: "#000000", width: 3.2 },
      z: 5,
      markLine: {
        silent: true, symbol: "none", label: { show: false },
        lineStyle: { color: "#b8b8b8", width: 1.6, type: [8, 6] },
        data: [{ yAxis: REF_LINE }],
        z: 4,
      },
    });

    graphic.push({
      type: "text",
      x: left + PANEL_W / 2,
      y: 47.5,
      z: 10,
      style: {
        text: TITLES[i], fontSize: 37, fontFamily: FONT, fill: "#1a1a1a",
        align: "center", verticalAlign: "middle", textAlign: "center", textVerticalAlign: "middle",
        lineHeight: 44,
      },
    });
  });

  // clip the over-wide first strip title to its panel
  graphic.push({ type: "rect", z: 20, shape: { x: 0, y: 0, width: PANEL_LEFT, height: 95 }, style: { fill: "#ffffff" } });
  graphic.push({ type: "rect", z: 20, shape: { x: PANEL_LEFT + PANEL_W + 0.5, y: 0, width: PANEL_STEP - PANEL_W - 1, height: 95 }, style: { fill: "#ffffff" } });

  graphic.push({
    type: "text", x: 35, y: 346, rotation: Math.PI / 2, z: 10,
    style: {
      text: "Trust", fontSize: 46, fontFamily: FONT, fill: "#000000",
      align: "center", verticalAlign: "middle", textAlign: "center", textVerticalAlign: "middle",
    },
  });
  graphic.push({
    type: "text", x: PANEL_LEFT + (5 * PANEL_STEP + PANEL_W) / 2, y: 665, z: 10,
    style: {
      text: "Year", fontSize: 45, fontFamily: FONT, fill: "#000000",
      align: "center", verticalAlign: "middle", textAlign: "center", textVerticalAlign: "middle",
    },
  });

  return { animation: false, backgroundColor: "#ffffff", grid, xAxis, yAxis, series, graphic };
}

export default function App() {
  const ref = useRef<HTMLDivElement>(null);
  useEffect(() => {
    if (!ref.current) return;
    const chart = echarts.init(ref.current, undefined, { renderer: "svg" });
    chart.setOption(buildOption() as any);
    return () => chart.dispose();
  }, []);
  return (
    <div
      ref={ref}
      style={{ position: "fixed", left: 0, top: 0, width: 1870, height: 696, background: "#fff" }}
    />
  );
}
